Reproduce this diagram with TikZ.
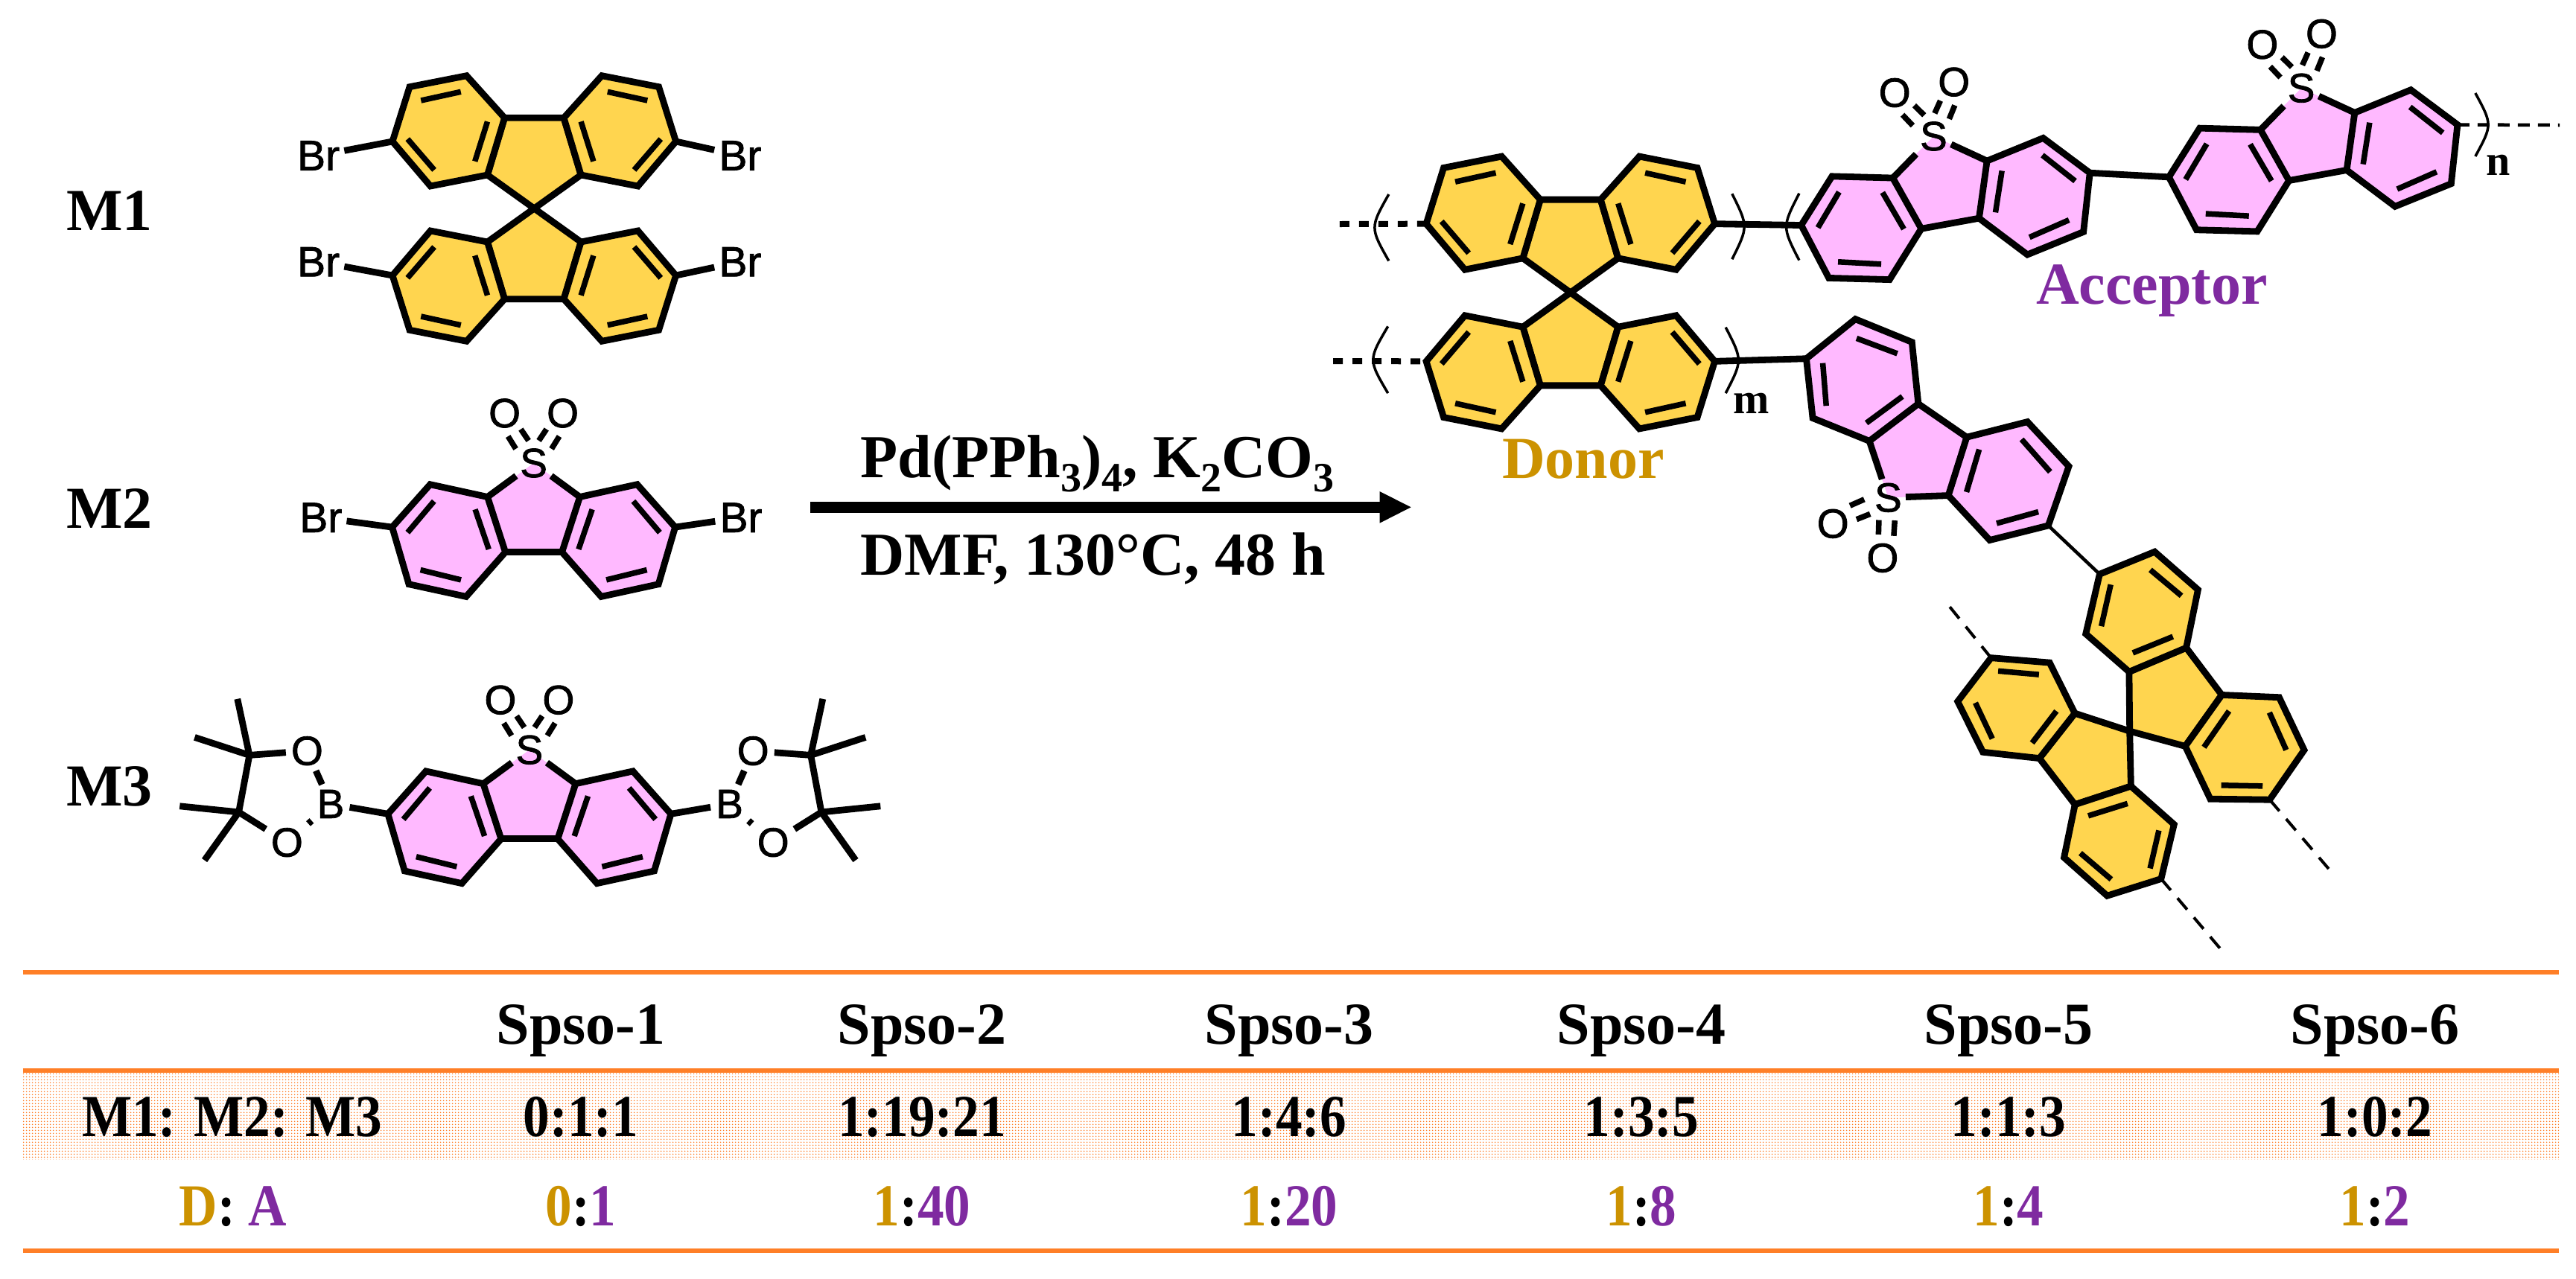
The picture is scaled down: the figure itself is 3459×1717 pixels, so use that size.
\documentclass[tikz,border=0pt]{standalone}
\usepackage{fontspec}
\usetikzlibrary{patterns.meta}
\setmainfont{Liberation Serif}
\newfontfamily\atomfont[FakeBold=1.5]{Liberation Sans}
\definecolor{gold}{HTML}{FFD54F}
\definecolor{pink}{HTML}{FFB9FF}
\definecolor{dcol}{HTML}{CC9200}
\definecolor{acol}{HTML}{7F2AA0}
\definecolor{rule}{HTML}{FF7F27}
\tikzset{
  bond/.style={line width=8.8pt,line join=miter},
  inner/.style={line width=7.5pt},
  thinb/.style={line width=4.5pt},
  brk/.style={line width=3.5pt},
  dashb/.style={line width=8pt,dash pattern=on 13pt off 13pt},
  dashc/.style={line width=4pt,dash pattern=on 20pt off 14pt},
  dashd/.style={line width=4.5pt,dash pattern=on 16pt off 11pt},
  atom/.style={font=\atomfont\fontsize{55}{60}\selectfont,inner sep=5pt},
  brom/.style={font=\atomfont\fontsize{57}{60}\selectfont,inner sep=6pt},
  lab/.style={font=\bfseries\fontsize{80}{96}\selectfont,anchor=base,inner sep=0pt},
  rxn/.style={font=\bfseries\fontsize{82}{96}\selectfont,anchor=base west,inner sep=0pt},
  idx/.style={font=\bfseries\fontsize{58}{66}\selectfont,anchor=base,inner sep=0pt},
  rulel/.style={line width=6pt,draw=rule}
}
\newcommand\lowsub[1]{\raisebox{-19pt}{\fontsize{56}{60}\selectfont #1}}
\newcommand\cz[1]{\scalebox{.89}[1]{#1}}
% one fluorene half, spiro centre at the local origin
\newcommand\flhalf[1]{%
  \filldraw[bond,fill=gold] (-39.8,-121.7)--(39.8,-121.7)--(62.8,-45)--(0,0)--(-62.8,-45)--cycle;
  \filldraw[bond,fill=gold] (-39.8,-121.7)--(-90.8,-178.3)--(-167.3,-163.3)--(-190.3,-90)--(-139.3,-30)--(-62.8,-45)--cycle;
  \filldraw[bond,fill=gold] (39.8,-121.7)--(90.8,-178.3)--(167.3,-163.3)--(190.3,-90)--(139.3,-30)--(62.8,-45)--cycle;
  \draw[inner] (-152,-145)--(-98.5,-156.7) (-170,-93.3)--(-134.2,-51.7) (-62.8,-116.7)--(-79.6,-63.3);
  \draw[inner] (152,-145)--(98.5,-156.7) (170,-93.3)--(134.2,-51.7) (62.8,-116.7)--(79.6,-63.3);
  \coordinate (#1l) at (-190.3,-90);
  \coordinate (#1r) at (190.3,-90);
}
\newcommand\flplace[7]{\begin{scope}[shift={(#2,#3)},x={(#4pt,#5pt)},y={(#6pt,#7pt)}]\flhalf{#1}\end{scope}}
% dibenzothiophene sulfone, S at the local origin
\newcommand\sulfone[1]{%
  \fill[pink] (0,0)--(62,45.5)--(38,119.6)--(-38,119.6)--(-62,45.5)--cycle;
  \filldraw[bond,fill=pink] (62,45.5)--(139,28.7)--(190,86.1)--(167.6,162.7)--(90.7,179.4)--(38,119.6)--cycle;
  \filldraw[bond,fill=pink] (-62,45.5)--(-139,28.7)--(-190,86.1)--(-167.6,162.7)--(-90.7,179.4)--(-38,119.6)--cycle;
  \draw[bond] (-38,119.6)--(38,119.6);
  \draw[inner] (133.8,51.2)--(169.3,93.3) (152,143.5)--(97.6,156.9) (78.6,62.2)--(60.3,115.8);
  \draw[inner] (-133.8,51.2)--(-169.3,93.3) (-152,143.5)--(-97.6,156.9) (-78.6,62.2)--(-60.3,115.8);
  \node[atom] (#1S) at (0,0) {S};
  \node[atom] (#1Ol) at (-39,-67) {O};
  \node[atom] (#1Or) at (39,-67) {O};
  \coordinate (#1cl) at (-62,45.5);
  \coordinate (#1cr) at (62,45.5);
  \coordinate (#1l) at (-190,86.1);
  \coordinate (#1r) at (190,86.1);
  \draw[bond] (#1S)--(#1cl) (#1S)--(#1cr);
  \draw[inner] (34.4,-35.9)--(24,-19.1) (17.2,-45.5)--(6.9,-30.1);
  \draw[inner] (-34.4,-35.9)--(-24,-19.1) (-17.2,-45.5)--(-6.9,-30.1);
}
\newcommand\suplace[7]{\begin{scope}[shift={(#2,#3)},x={(#4pt,#5pt)},y={(#6pt,#7pt)}]\sulfone{#1}\end{scope}}
% pinacol boronate (left-hand geometry, absolute picture coordinates)
\newcommand\pinacol[1]{%
  \node[atom,inner sep=7pt] (#1B) at (444,1079.9) {B};
  \node[atom,inner sep=7pt] (#1Oa) at (412.4,1008.6) {O};
  \node[atom,inner sep=7pt] (#1Ob) at (385.4,1131.6) {O};
  \coordinate (#1Ca) at (334.9,1014.4);
  \coordinate (#1Cb) at (320.6,1090.9);
  \coordinate (#1Ma) at (318.8,938.8);
  \coordinate (#1Mb) at (261.4,990.4);
  \coordinate (#1Mc) at (241.3,1082.8);
  \coordinate (#1Md) at (274.6,1155.5);
  \draw[bond] (#1Ca)--(#1Cb) (#1Ca)--(#1Oa) (#1Cb)--(#1Ob) (#1Oa)--(#1B) (#1Ob)--(#1B);
  \draw[bond] (#1Ca)--(#1Ma) (#1Ca)--(#1Mb) (#1Cb)--(#1Mc) (#1Cb)--(#1Md);
}
\begin{document}
\begin{tikzpicture}[x=1pt,y=-1pt]
\useasboundingbox (0,0) rectangle (3459,1717);
\fill[white] (0,0) rectangle (3459,1717);

% monomer labels
\node[lab,anchor=base west] (M1) at (89,309) {M1};
\node[lab,anchor=base west] (M2) at (89,709) {M2};
\node[lab,anchor=base west] (M3) at (89,1082) {M3};

% M1
\flplace{mt}{717.3}{280}{1}{0}{0}{-1}
\flplace{mb}{717.3}{280}{1}{0}{0}{1}
\node[brom] (BrA) at (427.6,209) {Br};
\node[brom] (BrB) at (993.9,209) {Br};
\node[brom] (BrC) at (427.6,351.7) {Br};
\node[brom] (BrD) at (993.9,351.7) {Br};
\draw[bond] (mtl)--(BrA) (mtr)--(BrB) (mbl)--(BrC) (mbr)--(BrD);

% M2
\suplace{mm}{716.6}{622}{1}{0}{0}{-1}
\node[brom] (BrE) at (430.8,695.2) {Br};
\node[brom] (BrF) at (995,695.2) {Br};
\draw[bond] (mml)--(BrE) (mmr)--(BrF);

% M3
\suplace{mn}{710.9}{1007.2}{1}{0}{0}{-1}
\pinacol{pa}
\begin{scope}[xscale=-1,shift={(-1423.6,0)}]
\pinacol{pb}
\end{scope}
\draw[bond] (mnl)--(paB) (mnr)--(pbB);

% reaction arrow
\node[rxn] (cond1) at (1155.5,641.7) {Pd(PPh\lowsub{3})\lowsub{4}, K\lowsub{2}CO\lowsub{3}};
\node[rxn] (cond2) at (1155.5,772) {DMF, 130°C, 48 h};
\coordinate (arS) at (1088,681.3);
\coordinate (arH) at (1853,681.3);
\draw[line width=14.7pt] (arS)--(arH);
\fill (1852.5,660)--(1894.6,681.3)--(1852.5,702.7)--cycle;

% donor in the polymer
\flplace{dt}{2108.8}{393}{1.018}{0}{0}{-1.026}
\flplace{db}{2108.8}{393}{1.018}{0}{0}{1.026}
% acceptors in the polymer
\suplace{aa}{2596.4}{183}{1.02}{0.185}{0.186}{-0.98}
\suplace{ab}{3090.1}{118.3}{1.02}{0.185}{0.186}{-0.98}
\suplace{ac}{2535.4}{668.4}{0.855}{-0.59}{0.61}{0.866}
% rotated spiro unit
\flplace{rt}{2859.7}{982.1}{0.60}{-0.796}{-0.82}{-0.66}
\flplace{rb}{2859.7}{982.1}{-0.60}{0.78}{0.80}{0.555}

\draw[bond] (dtr)--(aal) (aar)--(abl) (dbr)--(acl);
\draw[thinb] (acr)--(rtl);

\coordinate (ea) at (1798.8,301);
\coordinate (eb) at (1790.2,485);
\coordinate (ec) at (3437,168);
\coordinate (ed) at (3132.4,1173.5);
\coordinate (ee) at (2988.9,1283.2);
\coordinate (ef) at (2612.9,808.7);
\draw[dashb] (ea)--(dtl);
\draw[dashb] (eb)--(dbl);
\draw[dashd] (abr)--(ec);
\draw[dashc] (rtr)--(ed);
\draw[dashc] (rbl)--(ee);
\draw[dashc] (rbr)--(ef);

% polymer brackets
\draw[brk] (1864.8,261) .. controls (1839.6,305.7) .. (1864.8,350.4);
\draw[brk] (2325.8,260.3) .. controls (2347.6,304.3) .. (2325.8,348.2);
\draw[brk] (2415.9,259.8) .. controls (2392.9,304.7) .. (2415.9,349.6);
\draw[brk] (1863.7,438.4) .. controls (1837.3,483.3) .. (1863.7,528.1);
\draw[brk] (2317.2,439.7) .. controls (2340,483.9) .. (2317.2,528.1);
\draw[brk] (3323.8,125) .. controls (3346.8,167.5) .. (3323.8,210);
\node[idx] (mlab) at (2351.6,555) {m};
\node[idx] (nlab) at (3355,235.7) {n};
\node[lab,text=dcol] (donor) at (2126,642.9) {Donor};
\node[lab,text=acol] (acceptor) at (2889.5,408.5) {Acceptor};

% table
\path[pattern={Dots[distance=4pt,radius=1.05pt]},pattern color=rule] (30.6,1441) rectangle (3436,1557);
\draw[rulel] (30.6,1306)--(3436,1306);
\draw[rulel] (30.6,1438)--(3436,1438);
\draw[rulel] (30.6,1680)--(3436,1680);
\node[lab] (rowA) at (311.8,1526) {\cz{M1: M2: M3}};
\node[lab] (rowB) at (313,1646.7) {\cz{{\color{dcol}D}: {\color{acol}A}}};
\foreach \i/\x/\r/\d/\a in {1/780/0:1:1/0/1,2/1238/1:19:21/1/40,3/1731/1:4:6/1/20,4/2204/1:3:5/1/8,5/2697/1:1:3/1/4,6/3189/1:0:2/1/2}{
  \node[lab] (h\i) at (\x,1402.7) {Spso-\i};
  \node[lab] (r\i) at (\x,1526) {\cz{\r}};
  \node[lab] (s\i) at (\x,1646.7) {\cz{{\color{dcol}\d}:{\color{acol}\a}}};
}
\end{tikzpicture}
\end{document}
